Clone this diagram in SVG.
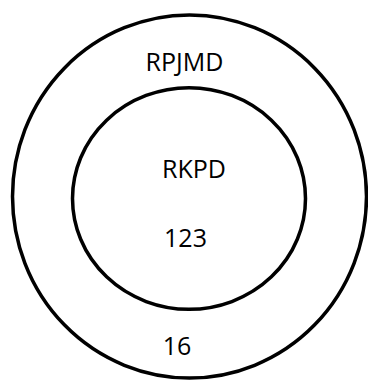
<svg xmlns="http://www.w3.org/2000/svg" width="368" height="381" viewBox="0 0 368 381">
<style>
.ring{fill:none;stroke:#000;stroke-width:3.5}
.lbl{font-family:"Open Sans","Liberation Sans",sans-serif;font-size:25px;fill:#000;text-anchor:middle}
</style>
<rect width="368" height="381" fill="#fff"/>
<g id="outer">
<ellipse class="ring" cx="189.5" cy="196.5" rx="177" ry="181.5"/>
<text class="lbl" x="184.5" y="71">RPJMD</text>
<text class="lbl" x="177" y="355">16</text>
</g>
<g id="inner">
<ellipse class="ring" cx="189" cy="198.5" rx="116.5" ry="110.8"/>
<text class="lbl" x="194" y="178">RKPD</text>
<text class="lbl" x="185.5" y="247">123</text>
</g>
<g id="connectors"/>
</svg>
